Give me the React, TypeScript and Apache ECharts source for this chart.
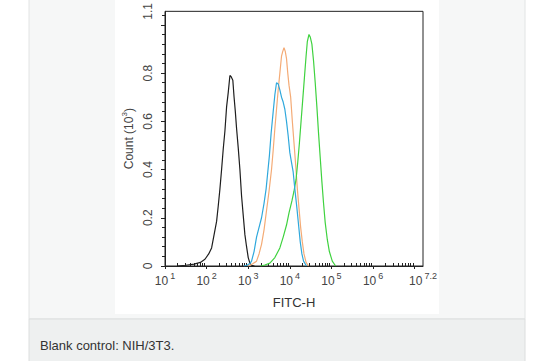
import React, { useEffect, useRef } from "react";
import * as echarts from "echarts";

// ---- data (log10 of FITC-H, count in 10^3) ----
const blackLog = [1.3, 1.5, 1.7, 1.85, 1.96, 2.05, 2.12, 2.18, 2.24, 2.28, 2.32, 2.36, 2.4, 2.44, 2.48, 2.52, 2.56, 2.59, 2.63, 2.66, 2.69, 2.72, 2.76, 2.8, 2.84, 2.88, 2.92, 2.96, 3.0, 3.04, 3.08, 3.15];
const blackCount = [0, 0.003, 0.008, 0.015, 0.028, 0.05, 0.075, 0.13, 0.185, 0.25, 0.32, 0.4, 0.486, 0.56, 0.66, 0.72, 0.79, 0.785, 0.77, 0.7, 0.64, 0.57, 0.49, 0.4, 0.29, 0.21, 0.13, 0.08, 0.035, 0.012, 0.003, 0];

const orangeLog = [3.0, 3.1, 3.2, 3.26, 3.32, 3.38, 3.44, 3.5, 3.56, 3.6, 3.64, 3.68, 3.72, 3.76, 3.8, 3.83, 3.86, 3.89, 3.92, 3.95, 3.98, 4.02, 4.06, 4.1, 4.14, 4.18, 4.22, 4.26, 4.3, 4.34, 4.39, 4.45];
const orangeCount = [0, 0.008, 0.02, 0.05, 0.09, 0.15, 0.23, 0.31, 0.4, 0.48, 0.57, 0.65, 0.73, 0.8, 0.87, 0.89, 0.905, 0.89, 0.86, 0.8, 0.75, 0.7, 0.6, 0.51, 0.42, 0.32, 0.24, 0.16, 0.1, 0.05, 0.015, 0];

const greenLog = [3.3, 3.4, 3.52, 3.64, 3.76, 3.84, 3.92, 3.98, 4.05, 4.1, 4.15, 4.19, 4.23, 4.27, 4.31, 4.35, 4.39, 4.42, 4.46, 4.49, 4.53, 4.57, 4.61, 4.65, 4.69, 4.73, 4.77, 4.81, 4.85, 4.9, 4.95, 5.02, 5.1];
const greenCount = [0, 0.004, 0.012, 0.035, 0.075, 0.12, 0.17, 0.22, 0.27, 0.31, 0.36, 0.43, 0.51, 0.6, 0.69, 0.78, 0.87, 0.93, 0.96, 0.95, 0.92, 0.85, 0.76, 0.66, 0.55, 0.45, 0.35, 0.26, 0.18, 0.11, 0.06, 0.02, 0];

const blueLog = [2.9, 2.98, 3.04, 3.08, 3.14, 3.2, 3.26, 3.32, 3.38, 3.43, 3.47, 3.51, 3.55, 3.6, 3.64, 3.68, 3.72, 3.76, 3.8, 3.84, 3.88, 3.92, 3.96, 4.0, 4.04, 4.08, 4.12, 4.17, 4.21, 4.25, 4.29, 4.33, 4.4];
const blueCount = [0, 0.004, 0.01, 0.02, 0.06, 0.12, 0.16, 0.2, 0.26, 0.32, 0.39, 0.46, 0.55, 0.64, 0.71, 0.76, 0.755, 0.73, 0.7, 0.68, 0.65, 0.6, 0.54, 0.47, 0.43, 0.39, 0.32, 0.24, 0.17, 0.1, 0.05, 0.02, 0];

// ---- axes ----
const xMin = 1;
const xMax = 7.2;
const xMajorTicks = [1, 2, 3, 4, 5, 6, 7];
const xLabelValues = [1, 2, 3, 4, 5, 6, 7.2];
const xLabelExps = ["1", "2", "3", "4", "5", "6", "7.2"];
const xMinorFactors = [2, 3, 4, 5, 6, 7, 8, 9];

const yMax = 1.056;
const yLabelValues = [0, 0.2, 0.4, 0.6, 0.8, yMax];
const yLabelTexts = ["0", "0.2", "0.4", "0.6", "0.8", "1.1"];
const yMajorTicks = [0, 0.2, 0.4, 0.6, 0.8, 1.0];
const yMinorTicks = [0.04, 0.08, 0.12, 0.16, 0.24, 0.28, 0.32, 0.36, 0.44, 0.48, 0.52, 0.56, 0.64, 0.68, 0.72, 0.76, 0.84, 0.88, 0.92, 0.96, 1.04];

const xAxisName = "FITC-H";
const yAxisName = "{a|Count (10}{s|3}{a|)}";
const caption = "Blank control: NIH/3T3.";

const FONT = "Arial, 'Liberation Sans', sans-serif";

const xMinorTicks: number[] = [];
for (const d of xMajorTicks) {
  for (const k of xMinorFactors) {
    const v = d + Math.log10(k);
    if (v < xMax) xMinorTicks.push(v);
  }
}

const pairs = (xs: number[], ys: number[]) => xs.map((x, i) => [x, ys[i]]);

export default function App() {
  const ref = useRef<HTMLDivElement>(null);
  useEffect(() => {
    if (!ref.current) return;
    const chart = echarts.init(ref.current, null, { renderer: "svg" });
    const line = (name: string, xs: number[], ys: number[], color: string) => ({
      type: "line",
      name,
      data: pairs(xs, ys),
      showSymbol: false,
      symbol: "none",
      lineStyle: { color, width: 1.2 },
      xAxisIndex: 0,
      yAxisIndex: 0,
      z: 3,
    });
    chart.setOption({
      animation: false,
      backgroundColor: "#ffffff",
      graphic: [
        { type: "rect", z: -10, shape: { x: 29, y: -2, width: 496, height: 321 }, style: { fill: "#f6f7f7", stroke: "#e2e4e4", lineWidth: 1 } },
        { type: "rect", z: -9, shape: { x: 29, y: 319, width: 496, height: 44 }, style: { fill: "#eef0f0", stroke: "#dcdede", lineWidth: 1 } },
        { type: "rect", z: -8, shape: { x: 115, y: -2, width: 324, height: 316 }, style: { fill: "#ffffff" } },
        { type: "text", z: 5, left: 40, top: 339, style: { text: caption, fontSize: 13, fill: "#333", fontFamily: FONT } },
      ],
      grid: {
        left: 165,
        top: 7,
        width: 258,
        height: 259,
        show: true,
        borderColor: "#222",
        borderWidth: 1,
        backgroundColor: "transparent",
      },
      xAxis: [
        {
          type: "value",
          min: xMin,
          max: xMax,
          position: "bottom",
          name: xAxisName,
          nameLocation: "middle",
          nameGap: 30,
          nameTextStyle: { fontSize: 13, color: "#333", fontFamily: FONT },
          axisLine: { show: true, lineStyle: { color: "#222", width: 1 } },
          axisTick: { show: true, customValues: xMajorTicks, length: 3, inside: false, lineStyle: { color: "#222" } },
          splitLine: { show: false },
          axisLabel: {
            customValues: xLabelValues,
            margin: 5,
            formatter: (v: number) => {
              const i = xLabelValues.findIndex((x) => Math.abs(x - v) < 1e-6);
              return `{b|10}{s|${i >= 0 ? xLabelExps[i] : ""}}`;
            },
            rich: {
              b: { fontSize: 12, color: "#444", fontFamily: FONT, lineHeight: 16, verticalAlign: "bottom" },
              s: { fontSize: 9, color: "#444", fontFamily: FONT, lineHeight: 10, verticalAlign: "top", padding: [0, 0, 0, 2] },
            },
          },
        },
        {
          type: "value",
          min: xMin,
          max: xMax,
          position: "bottom",
          axisLine: { show: false },
          axisTick: { show: true, customValues: xMinorTicks, length: 3, inside: true, lineStyle: { color: "#222" } },
          axisLabel: { show: false },
          splitLine: { show: false },
        },
      ],
      yAxis: [
        {
          type: "value",
          min: 0,
          max: yMax,
          position: "left",
          name: yAxisName,
          nameLocation: "middle",
          nameRotate: 90,
          nameGap: 30,
          nameTextStyle: {
            rich: {
              a: { fontSize: 12, color: "#444", fontFamily: FONT, lineHeight: 15, verticalAlign: "bottom" },
              s: { fontSize: 8, color: "#444", fontFamily: FONT, lineHeight: 9, verticalAlign: "top" },
            },
          },
          axisLine: { show: true, lineStyle: { color: "#222", width: 1 } },
          axisTick: { show: true, customValues: yMajorTicks, length: 4, lineStyle: { color: "#222" } },
          splitLine: { show: false },
          axisLabel: {
            customValues: yLabelValues,
            rotate: 90,
            margin: 11,
            fontSize: 12,
            color: "#444",
            fontFamily: FONT,
            formatter: (v: number) => {
              const i = yLabelValues.findIndex((y) => Math.abs(y - v) < 1e-6);
              return i >= 0 ? yLabelTexts[i] : "";
            },
          },
        },
        {
          type: "value",
          min: 0,
          max: yMax,
          position: "left",
          axisLine: { show: false },
          axisTick: { show: true, customValues: yMinorTicks, length: 3, lineStyle: { color: "#222" } },
          axisLabel: { show: false },
          splitLine: { show: false },
        },
      ],
      series: [
        line("black", blackLog, blackCount, "#1e1e1e"),
        line("orange", orangeLog, orangeCount, "#f4ab76"),
        line("green", greenLog, greenCount, "#3fd23f"),
        line("blue", blueLog, blueCount, "#2fa8dc"),
      ],
    });
    return () => chart.dispose();
  }, []);
  return (
    <div
      ref={ref}
      style={{ position: "fixed", left: 0, top: 0, width: 560, height: 361 }}
    />
  );
}
